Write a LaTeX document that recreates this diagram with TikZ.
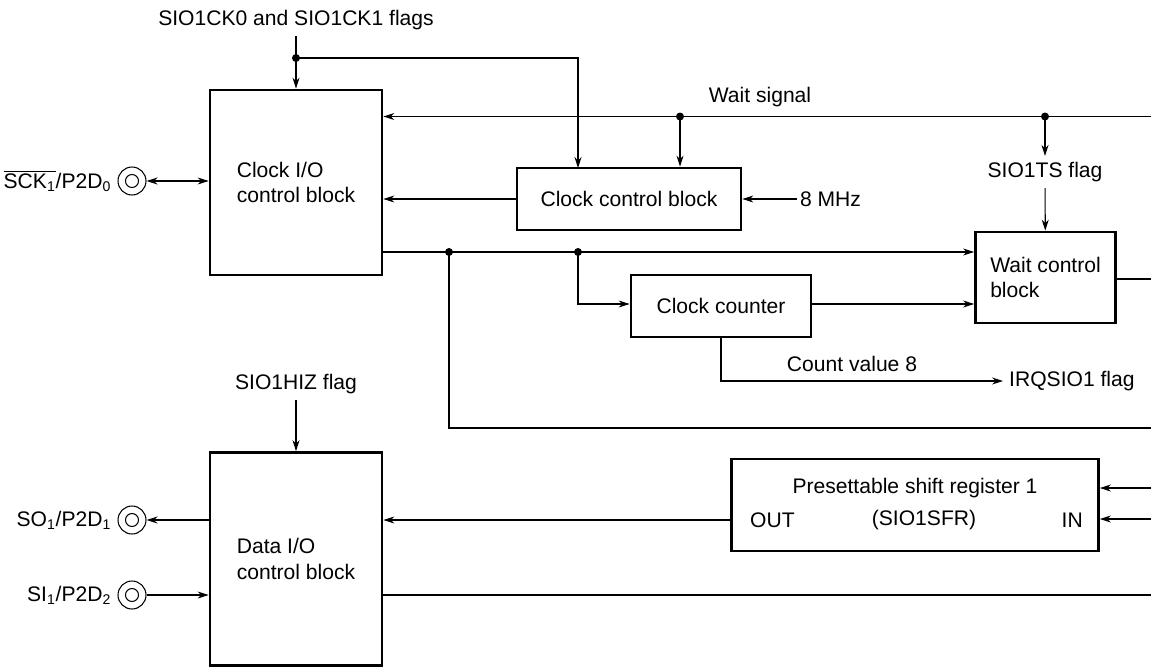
\documentclass[tikz,border=0pt]{standalone}
\usepackage{fontspec}
\setmainfont{Liberation Sans}
\usetikzlibrary{arrows.meta, positioning}

\begin{document}
\begin{tikzpicture}[
x=0.02cm, y=-0.02cm,
every node/.style={font=\fontsize{12}{14.5}\selectfont},
block/.style={rectangle, draw, line width=1.6pt, inner sep=0pt},
pin/.style={circle, draw, line width=0.6pt, minimum size=0.56cm, inner sep=0pt,
  path picture={\draw[line width=0.6pt] (path picture bounding box.center) circle (0.13cm);}},
wire/.style={line width=0.6pt},
arr/.style={wire, -{Stealth[length=2.2mm, width=1.4mm]}},
dot/.style={circle, fill, inner sep=0pt, minimum size=1.6mm}
]
\useasboundingbox (0,0) rectangle (1151,666);

% blocks
\node[block, minimum width=3.44cm, minimum height=3.70cm, align=left] (cio) at (296,182.5) {Clock I/O\\control block};
\node[block, minimum width=4.48cm, minimum height=1.24cm] (ccb) at (629,199) {Clock control block};
\node[block, minimum width=3.6cm, minimum height=1.24cm] (cnt) at (721,306) {Clock counter};
\node[block, minimum width=2.8cm, minimum height=1.82cm, align=left] (wcb) at (1045.5,277.5) {Wait control\\block};
\node[block, minimum width=3.44cm, minimum height=4.26cm, align=left] (dio) at (296,559) {Data I/O\\control block};
\node[block, minimum width=7.34cm, minimum height=1.84cm] (sr) at (915,505) {};
\node (srname) at (915,488) {Presettable shift register 1};
\node[anchor=west] (out) at (744,520) {OUT};
\node (sfr) at (924,520) {(SIO1SFR)};
\node[anchor=east] (in) at (1089,520) {IN};

% pins
\node[pin] (sckpin) at (132,181) {};
\node[pin] (sopin) at (132,520) {};
\node[pin] (sipin) at (132,595) {};
\node[left=0pt of sckpin] (scklbl) {$\overline{\mbox{SCK\textsubscript{1}}}$/P2D\textsubscript{0}};
\node[left=0pt of sopin] (solbl) {SO\textsubscript{1}/P2D\textsubscript{1}};
\node[left=0pt of sipin] (silbl) {SI\textsubscript{1}/P2D\textsubscript{2}};

% labels
\node (flags) at (296,20) {SIO1CK0 and SIO1CK1 flags};
\node (wait) at (760,97) {Wait signal};
\node (ts) at (1045,172) {SIO1TS flag};
\node[anchor=west, inner sep=1.5pt] (mhz) at (797,199) {8 MHz};
\node (cntval) at (852,364) {Count value 8};
\node[anchor=west] (irq) at (1003,381) {IRQSIO1 flag};
\node (hiz) at (296,384) {SIO1HIZ flag};

% junctions and free ends
\node[dot] (j1) at (296,58) {};
\node[dot] (jw1) at (680,116.5) {};
\node[dot] (jw2) at (1045,116.5) {};
\node[dot] (j3) at (449,252) {};
\node[dot] (j4) at (578,252) {};
\coordinate (ccbin) at (578,168);
\coordinate (waitR) at (1151,116.5);
\coordinate (cioout) at (382,252);
\coordinate (wcbR) at (1151,279);
\coordinate (cntR) at (1151,428);
\coordinate (srin1) at (1151,488);
\coordinate (srin2) at (1151,519);
\coordinate (siR) at (1151,595);
\coordinate (srout) at (731,520);

% connectors
\draw[arr] (flags) -- (cio);
\draw[arr] (j1.center) -| (ccbin);
\draw[arr] (waitR) -- (cio.east |- waitR);
\draw[arr] (jw1.center) -- (jw1 |- ccb.north);
\draw[arr] (jw2.center) -- (ts);
\draw[arr] (ts) -- (wcb);
\draw[arr] (ccb) -- (cio.east |- ccb);
\draw[arr] (mhz) -- (ccb);
\draw[{Stealth[length=2.2mm, width=1.4mm]}-{Stealth[length=2.2mm, width=1.4mm]}, wire] (sckpin) -- (cio.west |- sckpin);
\draw[arr] (cioout) -- (wcb.west |- cioout);
\draw[arr] (j4.center) |- (cnt.west |- 0,304);
\draw[arr] (cnt.east |- 0,304) -- (wcb.west |- 0,304);
\draw[wire] (wcb.east |- wcbR) -- (wcbR);
\draw[arr] (cnt.south) |- (irq);
\draw[wire] (j3.center) |- (cntR);
\draw[arr] (hiz) -- (dio);
\draw[arr] (dio.west |- sopin) -- (sopin);
\draw[arr] (sipin) -- (dio.west |- sipin);
\draw[arr] (srout) -- (dio.east |- srout);
\draw[arr] (srin1) -- (sr.east |- srin1);
\draw[arr] (srin2) -- (sr.east |- srin2);
\draw[wire] (dio.east |- siR) -- (siR);

\end{tikzpicture}
\end{document}
